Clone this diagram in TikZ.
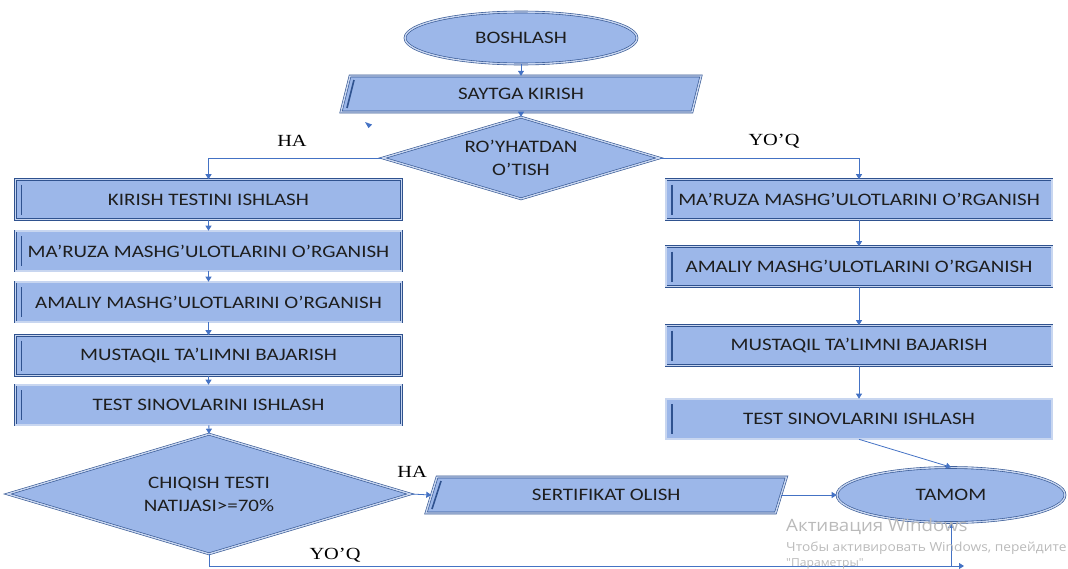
\documentclass[tikz,border=0pt]{standalone}
\usepackage{fontspec}
\usetikzlibrary{shapes.geometric,arrows.meta,calc}
\newfontfamily\boxfont{Carlito}[FakeStretch=1.2]
\newfontfamily\lblfont{Liberation Serif}[FakeStretch=1.2]
\newfontfamily\wmfont{Open Sans}[FakeStretch=1.1]
\definecolor{bfill}{RGB}{156,183,233}
\definecolor{bdark}{RGB}{47,82,143}
\definecolor{blite}{RGB}{200,214,240}
\definecolor{lcol}{RGB}{68,114,196}
\definecolor{txt}{RGB}{30,30,30}
\newcommand\mypara[5]{%
  \path[shapebase] (#1-#3+#5,#2-#4) -- (#1+#3+#5,#2-#4) -- (#1+#3-#5,#2+#4) -- (#1-#3-#5,#2+#4) -- cycle;
  \draw[bdark, line width=1.6pt] (#1-#3+#5+4,#2-#4+4) -- (#1-#3-#5+6,#2+#4-4);}
\begin{document}
\begin{tikzpicture}[x=1pt,y=-1pt,
  shapebase/.style={fill=bfill, draw=bdark, line width=0.6pt, double=blite, double distance=1.4pt},
  txtstyle/.style={inner sep=0pt, text=txt, font=\boxfont\fontsize{17.5}{23}\selectfont},
  procbox/.style={shapebase, txtstyle, rectangle, minimum width=386pt, minimum height=40pt,
    path picture={\draw[bdark, line width=1.8pt]
      ([xshift=6pt,yshift=-5pt]path picture bounding box.north west) --
      ([xshift=6pt,yshift=5pt]path picture bounding box.south west);}},
  term/.style={shapebase, txtstyle, ellipse},
  decide/.style={shapebase, txtstyle, diamond, align=center, aspect=3.4},
  ptext/.style={txtstyle, rectangle, minimum height=36pt},
  conn/.style={draw=lcol, line width=0.8pt, -{Triangle[width=6pt,length=5pt]}},
  lbl/.style={font=\lblfont\fontsize{17}{20}\selectfont, text=black, inner sep=0pt},
  wm/.style={anchor=base west, inner sep=0pt, text=black!27}
]
\useasboundingbox (0,0) rectangle (1068,568);

% terminals
\node[term, minimum width=232pt, minimum height=52pt] (bosh) at (521,38) {BOSHLASH};
\node[term, minimum width=228pt, minimum height=55pt] (tamom) at (951,495) {TAMOM};

% input/output
\mypara{521}{94}{175.5}{18}{4.5}
\node[ptext, minimum width=351pt] (sayt) at (521,94) {SAYTGA KIRISH};
\mypara{606.25}{495}{174.75}{18}{5.5}
\node[ptext, minimum width=349.5pt] (sert) at (606.25,495) {SERTIFIKAT OLISH};

% decisions
\node[decide, minimum width=277pt, minimum height=82pt] (royx) at (521,158) {RO’YHATDAN\\O’TISH};
\node[decide, minimum width=403pt, minimum height=120pt] (chiq) at (209,494) {CHIQISH TESTI\\NATIJASI>=70\%};

% left column
\node[procbox] (lkir) at (208.5,199.5) {KIRISH TESTINI ISHLASH};
\node[procbox] (lmar) at (208.5,251) {MA’RUZA MASHG’ULOTLARINI O’RGANISH};
\node[procbox] (lama) at (208.5,302) {AMALIY MASHG’ULOTLARINI O’RGANISH};
\node[procbox] (lmus) at (208.5,355.5) {MUSTAQIL TA’LIMNI BAJARISH};
\node[procbox] (ltst) at (208.5,405) {TEST SINOVLARINI ISHLASH};

% right column
\node[procbox] (rmar) at (859,199.5) {MA’RUZA MASHG’ULOTLARINI O’RGANISH};
\node[procbox] (rama) at (859,266.5) {AMALIY MASHG’ULOTLARINI O’RGANISH};
\node[procbox] (rmus) at (859,345.5) {MUSTAQIL TA’LIMNI BAJARISH};
\node[procbox] (rtst) at (859,419) {TEST SINOVLARINI ISHLASH};

% connectors
\draw[conn] (bosh.south) -- (sayt.north);
\draw[conn] (sayt.south) -- (royx.north);
\draw[conn] (royx.west) -| (lkir.north);
\draw[conn] (royx.east) -| (rmar.north);
\draw[conn] (lkir) -- (lmar);
\draw[conn] (lmar) -- (lama);
\draw[conn] (lama) -- (lmus);
\draw[conn] (lmus) -- (ltst);
\draw[conn] (ltst) -- (chiq.north);
\draw[conn] (rmar) -- (rama);
\draw[conn] (rama) -- (rmus);
\draw[conn] (rmus) -- (rtst);
\draw[conn] (rtst.south) -- (tamom.north);
\draw[conn] (chiq.east) -- (sert.west);
\draw[conn] (sert.east) -- (tamom.west);
\coordinate (ybot) at (209,566);
\coordinate (yend) at (964,566);
\coordinate (yup) at (951,566);
\draw[conn] (chiq.south) -- (ybot) -- (yend);
\draw[conn] (yup) -- (tamom.south);

% stray arrowhead
\fill[lcol] (365,122) -- (372,124.5) -- (368.5,128) -- cycle;

% labels
\node[lbl] (lha1) at (292,141) {HA};
\node[lbl] (lyq1) at (774,141) {YO’Q};
\node[lbl] (lha2) at (412,472) {HA};
\node[lbl] (lyq2) at (335,555) {YO’Q};

% watermark
\node[wm, font=\wmfont\fontsize{17}{20}\selectfont] (wm1) at (786,531) {Активация Windows};
\node[wm, font=\wmfont\fontsize{12.5}{15}\selectfont] (wm2) at (786,551) {Чтобы активировать Windows, перейдите};
\node[wm, font=\wmfont\fontsize{11}{13}\selectfont] (wm3) at (786,566) {"Параметры"};
\end{tikzpicture}
\end{document}
